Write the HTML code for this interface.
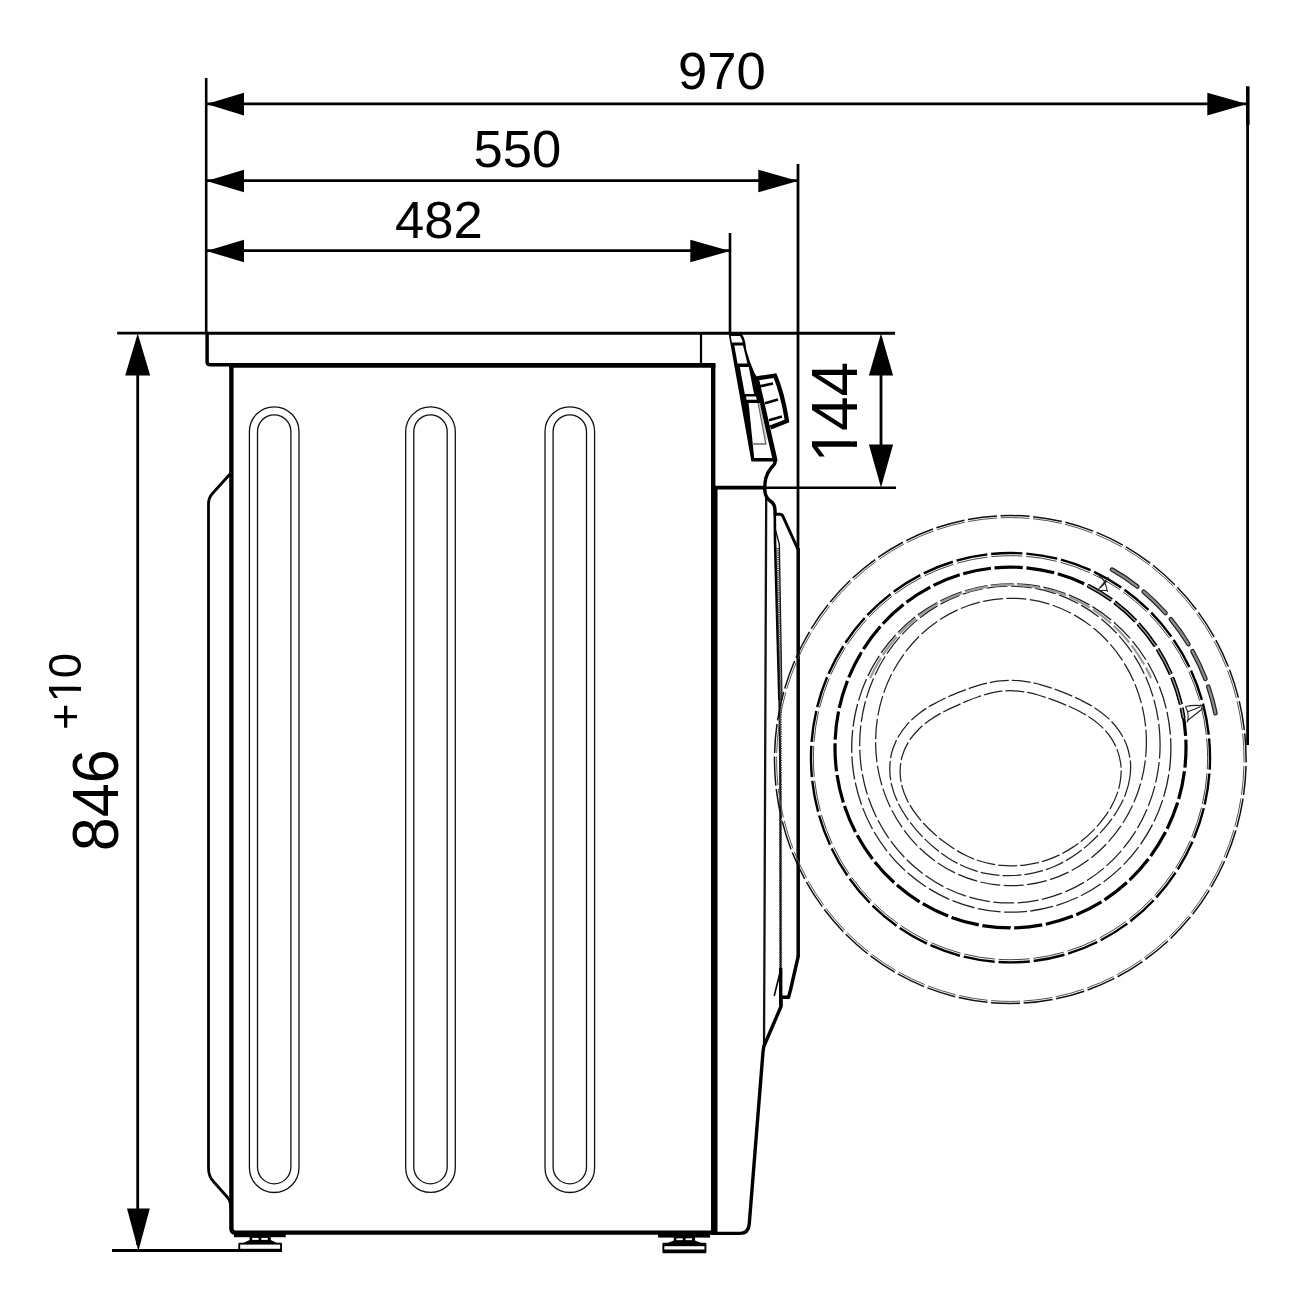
<!DOCTYPE html>
<html lang="en"><head><meta charset="utf-8"><title>Washer dimensions</title>
<style>
html,body{margin:0;padding:0;background:#fff;}
body{width:1300px;height:1300px;overflow:hidden;font-family:"Liberation Sans",Arial,sans-serif;}
svg{display:block;will-change:transform;}
</style></head><body>
<svg width="1300" height="1300" viewBox="0 0 1300 1300">
<rect width="1300" height="1300" fill="#fff"/>
<line x1="206.2" y1="78" x2="206.2" y2="334" stroke="#000" stroke-width="2.6"/>
<line x1="730" y1="233" x2="730" y2="334" stroke="#000" stroke-width="2.6"/>
<line x1="798" y1="164" x2="798" y2="550" stroke="#000" stroke-width="2.8"/>
<line x1="798.2" y1="548" x2="798.2" y2="957" stroke="#000" stroke-width="3.5"/>
<line x1="1247.6" y1="86.5" x2="1247.6" y2="745" stroke="#000" stroke-width="2.8"/>
<line x1="1247.8" y1="86.5" x2="1247.8" y2="125" stroke="#000" stroke-width="3.6"/>
<line x1="206" y1="103.8" x2="1247" y2="103.8" stroke="#000" stroke-width="2.8"/>
<line x1="206" y1="180.7" x2="798" y2="180.7" stroke="#000" stroke-width="2.8"/>
<line x1="206" y1="250.7" x2="730" y2="250.7" stroke="#000" stroke-width="2.8"/>
<line x1="117.2" y1="333.1" x2="207" y2="333.1" stroke="#000" stroke-width="2.6"/>
<line x1="206" y1="333.2" x2="895" y2="333.2" stroke="#000" stroke-width="3.0"/>
<line x1="714" y1="487.6" x2="766" y2="487.6" stroke="#000" stroke-width="3.6"/>
<line x1="764" y1="487.8" x2="896" y2="487.8" stroke="#000" stroke-width="2.6"/>
<line x1="112" y1="1250.6" x2="282" y2="1250.6" stroke="#000" stroke-width="3.0"/>
<line x1="137.7" y1="340" x2="137.7" y2="1245" stroke="#000" stroke-width="2.8"/>
<line x1="881" y1="340" x2="881" y2="482" stroke="#000" stroke-width="2.8"/>
<polygon points="206.5,104.1 244.0,92.8 244.0,115.39999999999999" fill="#000"/>
<polygon points="1247,104.1 1207.3,92.8 1207.3,115.39999999999999" fill="#000"/>
<polygon points="206.5,181 244.0,169.7 244.0,192.3" fill="#000"/>
<polygon points="798,181 758.3,169.7 758.3,192.3" fill="#000"/>
<polygon points="206.5,251 244.0,239.7 244.0,262.3" fill="#000"/>
<polygon points="730,251 690.3,239.7 690.3,262.3" fill="#000"/>
<polygon points="137.7,333.6 125.19999999999999,375.6 150.2,375.6" fill="#000"/>
<polygon points="138.4,1251 127.0,1208.5 149.8,1208.5" fill="#000"/>
<polygon points="881,333.6 868.9,375.6 893.1,375.6" fill="#000"/>
<polygon points="881,487.6 868.9,444.6 893.1,444.6" fill="#000"/>
<text x="722" y="89.4" font-size="52.6" text-anchor="middle" font-family="Liberation Sans, Arial, sans-serif" fill="#000">970</text>
<text x="517.5" y="167.2" font-size="52.6" text-anchor="middle" font-family="Liberation Sans, Arial, sans-serif" fill="#000">550</text>
<text x="439" y="238.0" font-size="52.6" text-anchor="middle" font-family="Liberation Sans, Arial, sans-serif" fill="#000">482</text>
<g transform="translate(856.8,413.7) rotate(-90) scale(0.965,1)"><text x="-50.58 -17.94 17.94" y="0" font-size="64.5" font-family="Liberation Sans, Arial, sans-serif" fill="#000">144</text><rect x="-46.17" y="-6.02" width="11.81" height="7.22" fill="#fff"/><rect x="-28.66" y="-6.02" width="11.31" height="7.22" fill="#fff"/></g>
<g transform="translate(118.0,800.3) rotate(-90) scale(0.955,1)"><text x="-53.39 -17.80 17.80" y="0" font-size="64.0" font-family="Liberation Sans, Arial, sans-serif" fill="#000">846</text></g>
<g transform="translate(81.3,691.5) rotate(-90) scale(1.0,1)"><text x="-38.59 -10.84 13.29" y="0" font-size="45.5" font-family="Liberation Sans, Arial, sans-serif" fill="#000">+10</text><rect x="-7.73" y="-4.60" width="8.33" height="5.80" fill="#fff"/><rect x="4.63" y="-4.60" width="7.98" height="5.80" fill="#fff"/></g>
<path d="M207.1 333V361.7Q207.1 364.7 210.1 364.7H232" fill="none" stroke="#000" stroke-width="3.5"/>
<path d="M229.2 365.4H715.4" fill="none" stroke="#000" stroke-width="4.6"/>
<line x1="701" y1="333" x2="701" y2="365" stroke="#000" stroke-width="2.2"/>
<path d="M231.4 365V1228.5Q231.4 1232.6 235.5 1232.6H714" fill="none" stroke="#000" stroke-width="4.4"/>
<path d="M713.2 363.4V1235" fill="none" stroke="#000" stroke-width="4.4"/>
<path d="M231 473L212 494Q208.5 498 208.5 504V1168Q208.5 1176 213 1181L228 1198Q231 1202 231 1210" fill="none" stroke="#000" stroke-width="2.8"/>
<path d="M249.39999999999998 431.6A24.8 24.8 0 0 1 299.0 431.6V1167.7A24.8 24.8 0 0 1 249.39999999999998 1167.7Z" fill="none" stroke="#111" stroke-width="1.3"/>
<path d="M257.5 431.5A16.7 16.7 0 0 1 290.9 431.5V1167.1A16.7 16.7 0 0 1 257.5 1167.1Z" fill="none" stroke="#111" stroke-width="1.3"/>
<path d="M405.7 431.6A24.8 24.8 0 0 1 455.3 431.6V1167.7A24.8 24.8 0 0 1 405.7 1167.7Z" fill="none" stroke="#111" stroke-width="1.3"/>
<path d="M413.8 431.5A16.7 16.7 0 0 1 447.2 431.5V1167.1A16.7 16.7 0 0 1 413.8 1167.1Z" fill="none" stroke="#111" stroke-width="1.3"/>
<path d="M545.0 431.6A24.8 24.8 0 0 1 594.5999999999999 431.6V1167.7A24.8 24.8 0 0 1 545.0 1167.7Z" fill="none" stroke="#111" stroke-width="1.3"/>
<path d="M553.0999999999999 431.5A16.7 16.7 0 0 1 586.5 431.5V1167.1A16.7 16.7 0 0 1 553.0999999999999 1167.1Z" fill="none" stroke="#111" stroke-width="1.3"/>
<rect x="234.0" y="1233" width="51.69999999999999" height="4.2" fill="#000"/>
<rect x="249.54999999999998" y="1236" width="21.2" height="5" fill="#000"/>
<rect x="252.14999999999998" y="1237.9" width="6.4" height="2" fill="#fff"/>
<rect x="261.34999999999997" y="1237.9" width="6.4" height="2" fill="#fff"/>
<polygon points="249.54999999999998,1240 270.75,1240 278,1243.3999999999999 242.3,1243.3999999999999" fill="#000"/>
<rect x="238.3" y="1242.8" width="43.69999999999999" height="9.200000000000045" rx="1.2" fill="#000"/>
<rect x="240.20000000000002" y="1244.6" width="39.89999999999999" height="4.2000000000000455" fill="#fff"/>
<rect x="658.1" y="1233.4" width="52.0" height="4.2" fill="#000"/>
<rect x="673.8" y="1236.4" width="21.2" height="5" fill="#000"/>
<rect x="676.4" y="1238.3000000000002" width="6.4" height="2" fill="#fff"/>
<rect x="685.6" y="1238.3000000000002" width="6.4" height="2" fill="#fff"/>
<polygon points="673.8,1240.4 695.0,1240.4 702.4,1243.3999999999999 666.4,1243.3999999999999" fill="#000"/>
<rect x="662.4" y="1242.8" width="44.0" height="10.400000000000091" rx="1.2" fill="#000"/>
<rect x="664.3" y="1246.2" width="40.2" height="3.2999999999999545" fill="#fff"/>
<line x1="716.2" y1="487" x2="716.2" y2="1234" stroke="#000" stroke-width="2.6"/>
<path d="M766.2 497L764.4 960L764 1046" fill="none" stroke="#111" stroke-width="2.3"/>
<path d="M715 1233.4H740Q748.3 1233.4 749.2 1224.5L763 1052L763.8 1046.5L781 1006.5V997.3H788.5L790.5 990L798.3 956" fill="none" stroke="#000" stroke-width="3.4" stroke-linejoin="round"/>
<path d="M728.6 333.5H741Q745 336 746.3 350L750 362L754.5 373L759.5 381L777.4 459.5L777 461.6H751.4Z" fill="#000"/>
<polygon points="730.8,336 740,336 742.2,340 742.6,342.4 731.9,342.4" fill="#fff"/>
<polygon points="734.3,345.6 743,345.6 747.4,363.4 737.6,363.4" fill="#fff"/>
<polygon points="739.8,367 748.8,367 754,394 744.8,394" fill="#fff"/>
<polygon points="746,396.6 756,396.6 756.8,399.8 746.6,399.8" fill="#fff"/>
<polygon points="748.6,403 759.6,403 772.2,458 754.2,458" fill="#fff"/>
<path d="M758.2 403L765.8 444H752" fill="none" stroke="#666" stroke-width="1.3"/>
<path d="M759.4 403L766.5 440" fill="none" stroke="#999" stroke-width="1.6" stroke-dasharray="1 1"/>
<path d="M757 378.3L775 375.6Q782.5 393 787 421L770.5 427.6" fill="none" stroke="#000" stroke-width="4.3" stroke-linejoin="miter"/>
<path d="M760 386.2L773 383.6 M765 403.2L778 399.6 M769 420.2L782 416.4" fill="none" stroke="#000" stroke-width="2.6"/>
<path d="M775.5 460.5L774.5 464Q773 466 771.5 467.5Q767.5 472 765.6 479Q764.4 486 765 492Q765.6 497.5 770 500.8Q774.4 503.6 774.8 508L775.2 514" fill="none" stroke="#000" stroke-width="3.4" stroke-linecap="round"/>
<path d="M775.2 514.3H780Q782 514.3 783 516.5L798 549.5" fill="none" stroke="#000" stroke-width="3.0"/>
<path d="M774.8 513L775 540L779.4 700" fill="none" stroke="#000" stroke-width="2.6"/>
<path d="M779.4 699L780.4 800L780.6 970" fill="none" stroke="#000" stroke-width="2.0"/>
<path d="M780.7 968V1006" fill="none" stroke="#000" stroke-width="3.4"/>
<path d="M775.5 530L779.3 544L781.9 700" fill="none" stroke="#111" stroke-width="1.4"/>
<path d="M777.6 548L780.8 700" fill="none" stroke="#444" stroke-width="2.8" stroke-dasharray="1.2 1"/>
<path d="M780.5 700L780.7 969" fill="none" stroke="#333" stroke-width="3.0" stroke-dasharray="1 1.4"/>
<path d="M780.4 971L774.2 996" fill="none" stroke="#000" stroke-width="1.6"/>
<path d="M1010.3 515.5A235.8 244.0 0 1 1 1010.3 1003.5A235.8 244.0 0 1 1 1010.3 515.5Z" pathLength="4600" fill="none" stroke="#111" stroke-width="1.5" stroke-dasharray="89.0 11.0" stroke-dashoffset="30"/>
<path d="M1010.3 517.6A233.7 241.9 0 1 1 1010.3 1001.4A233.7 241.9 0 1 1 1010.3 517.6Z" pathLength="4600" fill="none" stroke="#555" stroke-width="1.0" stroke-dasharray="89.0 11.0" stroke-dashoffset="30"/>
<path d="M1010.5 553.0A199.5 204.7 0 1 1 1010.5 962.4A199.5 204.7 0 1 1 1010.5 553.0Z" pathLength="3600" fill="none" stroke="#000" stroke-width="2.4" stroke-dasharray="89.0 11.0" stroke-dashoffset="55"/>
<path d="M1010.5 555.7A197.0 202.0 0 1 1 1010.5 959.7A197.0 202.0 0 1 1 1010.5 555.7Z" pathLength="3600" fill="none" stroke="#444" stroke-width="1.0" stroke-dasharray="89.0 11.0" stroke-dashoffset="55"/>
<path d="M1010.5 567.1A175.5 180.4 0 1 1 1010.5 927.9A175.5 180.4 0 1 1 1010.5 567.1Z" pathLength="3500" fill="none" stroke="#000" stroke-width="3.2" stroke-dasharray="88.5 11.5" stroke-dashoffset="50"/>
<path d="M1170.9 748.0A159.6 164.2 0 1 1 851.7 748.0A159.6 164.2 0 1 1 1170.9 748.0Z" fill="none" stroke="#222" stroke-width="1.3" stroke-dasharray="23 3.5" stroke-dashoffset="0"/>
<path d="M1160.1 744.6A150.2 158.4 0 1 1 859.7 744.6A150.2 158.4 0 1 1 1160.1 744.6Z" fill="none" stroke="#222" stroke-width="1.25" stroke-dasharray="21 3.5" stroke-dashoffset="7"/>
<path d="M870.1 678.1A155.0 161.3 0 0 1 1151.1 678.1" fill="none" stroke="#999" stroke-width="2.2" stroke-dasharray="23 3.5"/>
<path d="M1146.4 742.0A135.4 143.6 0 1 1 875.6 742.0A135.4 143.6 0 1 1 1146.4 742.0Z" fill="none" stroke="#222" stroke-width="1.25" stroke-dasharray="20 3.5" stroke-dashoffset="5"/>
<path d="M1129.7 778.5C1128.9 784.0 1127.2 789.5 1125.3 794.7C1123.4 799.8 1120.8 804.7 1118.1 809.3C1115.4 814.0 1112.3 818.3 1109.2 822.4C1106.0 826.5 1102.7 830.3 1099.3 833.9C1095.9 837.5 1092.4 840.9 1088.8 844.1C1085.2 847.3 1081.5 850.3 1077.7 853.0C1074.0 855.8 1070.0 858.3 1066.0 860.6C1062.0 862.9 1057.9 864.9 1053.7 866.7C1049.5 868.5 1045.2 870.0 1040.8 871.2C1036.4 872.4 1032.0 873.4 1027.6 874.1C1023.1 874.8 1018.6 875.3 1014.1 875.5C1009.6 875.7 1005.0 875.7 1000.5 875.4C996.0 875.1 991.5 874.5 987.0 873.6C982.5 872.8 978.0 871.7 973.7 870.2C969.3 868.8 965.0 867.1 960.8 865.0C956.6 863.0 952.5 860.7 948.5 858.2C944.5 855.7 940.6 852.8 936.9 849.8C933.1 846.8 929.5 843.6 925.9 840.1C922.4 836.7 918.9 833.0 915.6 829.1C912.3 825.2 909.0 821.1 906.1 816.6C903.1 812.2 900.2 807.5 897.9 802.5C895.6 797.6 893.5 792.2 892.1 786.8C890.7 781.4 889.8 775.7 889.8 770.1C889.7 764.5 890.3 758.7 891.6 753.2C893.0 747.8 895.2 742.4 897.8 737.5C900.5 732.6 904.0 727.9 907.7 723.8C911.4 719.7 915.8 716.0 920.1 712.7C924.4 709.4 929.0 706.6 933.6 704.1C938.1 701.5 942.7 699.3 947.2 697.2C951.7 695.2 956.1 693.4 960.5 691.6C964.9 689.9 969.3 688.3 973.7 686.9C978.1 685.5 982.5 684.2 986.9 683.2C991.4 682.2 995.9 681.3 1000.4 680.9C1005.0 680.4 1009.6 680.2 1014.1 680.4C1018.7 680.5 1023.3 681.1 1027.8 681.8C1032.3 682.6 1036.7 683.6 1041.1 684.8C1045.6 686.1 1049.9 687.5 1054.4 689.0C1058.8 690.6 1063.2 692.3 1067.6 694.1C1072.1 696.0 1076.7 698.0 1081.2 700.3C1085.7 702.6 1090.4 705.0 1094.8 707.9C1099.3 710.9 1103.8 714.1 1107.8 717.9C1111.8 721.6 1115.7 725.8 1118.8 730.4C1122.0 735.0 1124.7 740.1 1126.7 745.3C1128.6 750.5 1129.8 756.2 1130.4 761.7C1130.9 767.3 1130.6 773.1 1129.7 778.5Z" fill="none" stroke="#222" stroke-width="1.25" stroke-dasharray="19 3" stroke-dashoffset="0"/>
<path d="M1120.6 779.0C1120.0 784.0 1118.7 789.1 1117.1 793.9C1115.4 798.6 1113.2 803.3 1110.7 807.6C1108.3 811.9 1105.5 815.9 1102.6 819.7C1099.7 823.6 1096.5 827.1 1093.3 830.4C1090.1 833.7 1086.7 836.8 1083.2 839.6C1079.8 842.5 1076.2 845.1 1072.6 847.4C1069.0 849.8 1065.3 852.0 1061.5 853.9C1057.7 855.8 1053.9 857.5 1050.0 858.9C1046.1 860.4 1042.1 861.6 1038.1 862.6C1034.1 863.5 1030.1 864.3 1026.1 864.8C1022.1 865.4 1018.0 865.7 1014.0 865.8C1009.9 865.9 1005.9 865.8 1001.9 865.4C997.8 865.1 993.8 864.5 989.8 863.7C985.8 862.9 981.9 861.8 978.0 860.5C974.1 859.2 970.3 857.6 966.6 855.8C962.8 854.0 959.2 852.0 955.6 849.8C952.0 847.6 948.5 845.2 945.1 842.6C941.6 840.0 938.2 837.2 934.8 834.3C931.5 831.3 928.1 828.1 924.9 824.7C921.7 821.3 918.4 817.6 915.6 813.7C912.7 809.7 909.8 805.4 907.6 800.9C905.4 796.4 903.3 791.5 902.1 786.6C900.8 781.6 900.1 776.3 900.1 771.2C900.1 766.1 900.9 760.8 902.3 755.9C903.7 750.9 906.0 746.1 908.6 741.7C911.3 737.3 914.7 733.3 918.3 729.7C921.8 726.1 925.9 722.9 929.9 720.0C933.9 717.2 938.1 714.8 942.2 712.6C946.3 710.3 950.4 708.4 954.4 706.6C958.4 704.7 962.3 703.0 966.2 701.4C970.1 699.8 973.9 698.3 977.8 697.0C981.7 695.6 985.6 694.4 989.6 693.4C993.6 692.4 997.7 691.6 1001.7 691.2C1005.8 690.8 1009.9 690.6 1014.0 690.8C1018.1 691.0 1022.2 691.5 1026.2 692.2C1030.3 692.9 1034.3 693.9 1038.2 695.0C1042.2 696.2 1046.1 697.5 1050.0 698.9C1054.0 700.3 1057.9 701.7 1061.9 703.4C1066.0 705.0 1070.1 706.7 1074.2 708.7C1078.3 710.7 1082.6 712.8 1086.7 715.4C1090.8 718.0 1095.0 720.8 1098.7 724.1C1102.5 727.4 1106.1 731.2 1109.1 735.2C1112.1 739.3 1114.8 743.9 1116.8 748.6C1118.7 753.3 1120.0 758.5 1120.7 763.5C1121.3 768.6 1121.3 773.9 1120.6 779.0Z" fill="none" stroke="#222" stroke-width="1.25" stroke-dasharray="19 3" stroke-dashoffset="9"/>
<path d="M1112.0 569.6A209.5 215.0 0 0 1 1215.5 713.2" fill="none" stroke="#222" stroke-width="4.6" stroke-dasharray="30.5 8.2" stroke-linecap="round"/>
<path d="M1112.0 569.6A209.5 215.0 0 0 1 1215.5 713.2" fill="none" stroke="#8c8c8c" stroke-width="2.2" stroke-dasharray="30.5 8.2" stroke-linecap="round"/>
<clipPath id="c3clip"><polygon points="1010.5,747.5 1100,560 1260,560 1260,716 1196,716"/></clipPath>
<g clip-path="url(#c3clip)"><path d="M1010.5 567.1A175.5 180.4 0 1 1 1010.5 927.9A175.5 180.4 0 1 1 1010.5 567.1Z" pathLength="3500" fill="none" stroke="#000" stroke-width="4.2" stroke-dasharray="88.5 11.5" stroke-dashoffset="50"/><path d="M1010.5 567.1A175.5 180.4 0 1 1 1010.5 927.9A175.5 180.4 0 1 1 1010.5 567.1Z" pathLength="3500" fill="none" stroke="#9a9a9a" stroke-width="1.3" stroke-dasharray="88.5 11.5" stroke-dashoffset="50"/></g>
<path d="M1098.5 575.5Q1105 578 1107.5 592M1097.5 590.5L1108.5 577M1097.5 590.5H1107.5M1100 588L1107 581" fill="none" stroke="#222" stroke-width="1.1"/>
<path d="M1185.5 706.5Q1195 704.5 1203.5 706M1187 721L1204 707.5M1185.5 706.5Q1190 715 1187 722.5M1187 712L1200 707" fill="none" stroke="#222" stroke-width="1.1"/>
</svg>
</body></html>
